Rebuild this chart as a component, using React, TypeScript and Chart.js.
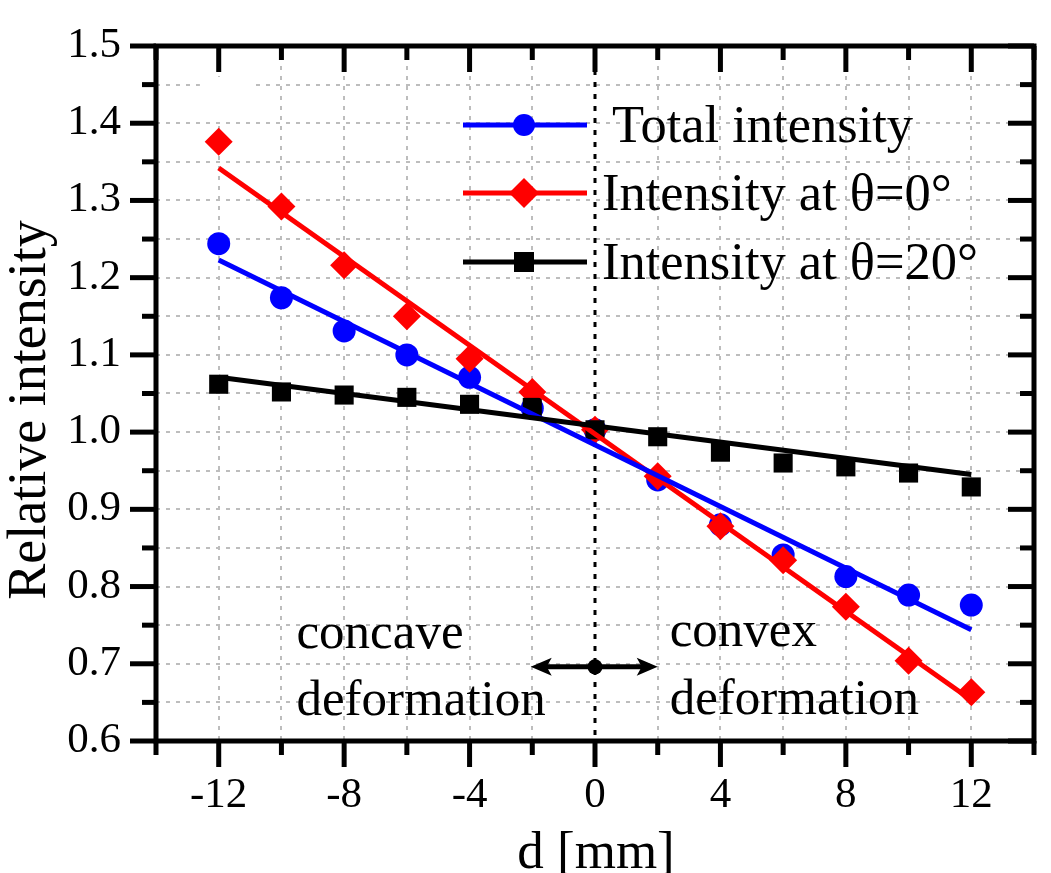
import React, { useEffect, useRef } from 'react';
import { Chart, registerables } from 'chart.js';

Chart.register(...registerables);

// ---- data ----
const D_MM = [-12, -10, -8, -6, -4, -2, 0, 2, 4, 6, 8, 10, 12];
const TOTAL = [1.244, 1.174, 1.131, 1.1, 1.071, 1.031, 1.003, 0.938, 0.88, 0.841, 0.813, 0.789, 0.776];
const THETA0 = [1.376, 1.292, 1.216, 1.15, 1.095, 1.052, 1.003, 0.943, 0.878, 0.834, 0.774, 0.704, 0.663];
const THETA20 = [1.062, 1.052, 1.048, 1.045, 1.036, 1.032, 1.003, 0.994, 0.974, 0.96, 0.955, 0.947, 0.929];

const FIT_X = [-12, 12];
const TOTAL_FIT = [1.223, 0.744];
const THETA0_FIT = [1.342, 0.653];
const THETA20_FIT = [1.071, 0.945];

const SERIES_LABELS = ['Total intensity', 'Intensity at \u03B8=0\u00B0', 'Intensity at \u03B8=20\u00B0'];
const X_TICKS = [-12, -8, -4, 0, 4, 8, 12];
const X_TICK_LABELS = ['-12', '-8', '-4', '0', '4', '8', '12'];
const X_MINOR = [-14, -10, -6, -2, 2, 6, 10, 14];
const X_GRID = [-12, -10, -8, -6, -4, -2, 2, 4, 6, 8, 10, 12];
const Y_TICKS = [0.6, 0.7, 0.8, 0.9, 1.0, 1.1, 1.2, 1.3, 1.4, 1.5];
const Y_TICK_LABELS = ['0.6', '0.7', '0.8', '0.9', '1.0', '1.1', '1.2', '1.3', '1.4', '1.5'];
const Y_MINOR = [0.65, 0.75, 0.85, 0.95, 1.05, 1.15, 1.25, 1.35, 1.45];
const Y_GRID = [0.65, 0.7, 0.75, 0.8, 0.85, 0.9, 0.95, 1.0, 1.05, 1.1, 1.15, 1.2, 1.25, 1.3, 1.35, 1.4, 1.45];
const X_TITLE = 'd [mm]';
const Y_TITLE = 'Relative intensity';
const NOTE_LEFT = ['concave', 'deformation'];
const NOTE_RIGHT = ['convex', 'deformation'];

const BLUE = '#0000ff';
const RED = '#ff0000';
const BLACK = '#000000';
const SERIF = "'Liberation Serif', 'Times New Roman', serif";

const toPts = (xs: number[], ys: number[]) => xs.map((x, i) => ({ x, y: ys[i] }));

const decor = {
  id: 'decor',
  beforeDatasetsDraw(chart: any) {
    const { ctx, chartArea: a, scales } = chart;
    const x = scales.x;
    const y = scales.y;
    ctx.save();
    // dotted gray grid
    ctx.strokeStyle = '#bdbdbd';
    ctx.lineWidth = 2;
    ctx.setLineDash([4, 6]);
    for (const v of X_GRID) {
      const px = Math.round(x.getPixelForValue(v));
      ctx.beginPath();
      ctx.moveTo(px, a.top);
      ctx.lineTo(px, a.bottom);
      ctx.stroke();
    }
    for (const v of Y_GRID) {
      const py = Math.round(y.getPixelForValue(v));
      ctx.beginPath();
      ctx.moveTo(a.left, py);
      ctx.lineTo(a.right, py);
      ctx.stroke();
    }
    ctx.setLineDash([]);
    // white patch in the upper left
    ctx.fillStyle = '#ffffff';
    const bx0 = x.getPixelForValue(-12.6);
    const bx1 = x.getPixelForValue(-10.85);
    const by0 = y.getPixelForValue(1.46);
    const by1 = y.getPixelForValue(1.402);
    ctx.fillRect(bx0, by0, bx1 - bx0, by1 - by0);
    // black dotted line at d = 0
    ctx.strokeStyle = BLACK;
    ctx.lineWidth = 3;
    ctx.setLineDash([5, 7]);
    const zx = Math.round(x.getPixelForValue(0));
    ctx.beginPath();
    ctx.moveTo(zx, a.top);
    ctx.lineTo(zx, a.bottom);
    ctx.stroke();
    ctx.restore();
  },
  afterDatasetsDraw(chart: any) {
    const { ctx, chartArea: a, scales } = chart;
    const x = scales.x;
    const y = scales.y;
    ctx.save();
    ctx.strokeStyle = BLACK;
    ctx.fillStyle = BLACK;
    ctx.setLineDash([]);
    ctx.lineCap = 'butt';

    // ticks
    ctx.lineWidth = 5;
    const seg = (x0: number, y0: number, x1: number, y1: number) => {
      ctx.beginPath();
      ctx.moveTo(x0, y0);
      ctx.lineTo(x1, y1);
      ctx.stroke();
    };
    const MAJ = 26;
    const MIN = 14;
    for (const v of X_TICKS) {
      const px = x.getPixelForValue(v);
      seg(px, a.bottom, px, a.bottom + MAJ);
      seg(px, a.top, px, a.top + MAJ);
    }
    for (const v of X_MINOR) {
      const px = x.getPixelForValue(v);
      seg(px, a.bottom, px, a.bottom + MIN);
      seg(px, a.top, px, a.top + MIN);
    }
    for (const v of Y_TICKS) {
      const py = y.getPixelForValue(v);
      seg(a.left - MAJ, py, a.left, py);
      seg(a.right - MAJ, py, a.right, py);
    }
    for (const v of Y_MINOR) {
      const py = y.getPixelForValue(v);
      seg(a.left - MIN, py, a.left, py);
      seg(a.right - MIN, py, a.right, py);
    }

    // frame
    ctx.lineWidth = 5;
    ctx.lineJoin = 'miter';
    ctx.strokeRect(a.left, a.top, a.right - a.left, a.bottom - a.top);

    // tick labels
    ctx.font = `43px ${SERIF}`;
    ctx.textBaseline = 'alphabetic';
    ctx.textAlign = 'center';
    X_TICKS.forEach((v, i) => {
      ctx.fillText(X_TICK_LABELS[i], x.getPixelForValue(v), a.bottom + 66);
    });
    ctx.textAlign = 'right';
    Y_TICKS.forEach((v, i) => {
      ctx.fillText(Y_TICK_LABELS[i], a.left - 35, y.getPixelForValue(v) + 11);
    });

    // axis titles
    ctx.font = `53px ${SERIF}`;
    ctx.textAlign = 'center';
    ctx.fillText(X_TITLE, (a.left + a.right) / 2 + 1, a.bottom + 127);
    ctx.save();
    ctx.font = `54px ${SERIF}`;
    ctx.translate(45, 410);
    ctx.rotate(-Math.PI / 2);
    ctx.fillText(Y_TITLE, 0, 0);
    ctx.restore();

    // notes
    ctx.font = `51px ${SERIF}`;
    ctx.textAlign = 'left';
    const lx = x.getPixelForValue(-9.52);
    const rx = x.getPixelForValue(2.38);
    ctx.fillText(NOTE_LEFT[0], lx, 648);
    ctx.fillText(NOTE_LEFT[1], lx, 715);
    ctx.fillText(NOTE_RIGHT[0], rx, 646);
    ctx.fillText(NOTE_RIGHT[1], rx, 714);

    // double arrow with centre dot
    const ay = y.getPixelForValue(0.696);
    const ax0 = x.getPixelForValue(-2.05);
    const ax1 = x.getPixelForValue(2.0);
    const ax = x.getPixelForValue(0);
    ctx.lineWidth = 5;
    seg(ax0 + 12, ay, ax1 - 12, ay);
    ctx.beginPath();
    ctx.moveTo(ax0, ay);
    ctx.lineTo(ax0 + 21, ay - 9);
    ctx.lineTo(ax0 + 16, ay);
    ctx.lineTo(ax0 + 21, ay + 9);
    ctx.closePath();
    ctx.fill();
    ctx.beginPath();
    ctx.moveTo(ax1, ay);
    ctx.lineTo(ax1 - 21, ay - 9);
    ctx.lineTo(ax1 - 16, ay);
    ctx.lineTo(ax1 - 21, ay + 9);
    ctx.closePath();
    ctx.fill();
    ctx.beginPath();
    ctx.arc(ax, ay, 7.5, 0, Math.PI * 2);
    ctx.fill();

    // legend
    const rows = [125, 193, 262];
    const colors = [BLUE, RED, BLACK];
    const l0 = 463;
    const l1 = 587;
    const mx = 524;
    rows.forEach((ry, i) => {
      ctx.strokeStyle = colors[i];
      ctx.fillStyle = colors[i];
      ctx.lineWidth = 5;
      seg(l0, ry, l1, ry);
      ctx.beginPath();
      if (i === 0) {
        ctx.arc(mx, ry, 11, 0, Math.PI * 2);
      } else if (i === 1) {
        ctx.moveTo(mx - 15, ry);
        ctx.lineTo(mx, ry - 15);
        ctx.lineTo(mx + 15, ry);
        ctx.lineTo(mx, ry + 15);
        ctx.closePath();
      } else {
        ctx.rect(mx - 10, ry - 10, 20, 20);
      }
      ctx.fill();
    });
    ctx.fillStyle = BLACK;
    ctx.font = `52.5px ${SERIF}`;
    ctx.textAlign = 'left';
    ctx.fillText(SERIES_LABELS[0], 612, rows[0] + 17);
    ctx.fillText(SERIES_LABELS[1], 602, rows[1] + 17);
    ctx.fillText(SERIES_LABELS[2], 602, rows[2] + 17);

    ctx.restore();
  },
};

export default function App() {
  const ref = useRef<HTMLCanvasElement | null>(null);

  useEffect(() => {
    document.body.style.margin = '0';
    const canvas = ref.current;
    if (!canvas) return;
    const marker = (data: number[], color: string, style: string, r: number, order: number) => ({
      type: 'scatter' as const,
      data: toPts(D_MM, data),
      showLine: false,
      pointStyle: style,
      pointRadius: r,
      pointBackgroundColor: color,
      pointBorderColor: color,
      pointBorderWidth: 0,
      order,
    });
    const fit = (data: number[], color: string, order: number) => ({
      type: 'line' as const,
      data: toPts(FIT_X, data),
      showLine: true,
      borderColor: color,
      borderWidth: 5,
      pointRadius: 0,
      fill: false,
      order,
    });
    const chart = new Chart(canvas, {
      type: 'scatter',
      data: {
        datasets: [
          marker(TOTAL, BLUE, 'circle', 11.5, 7),
          marker(THETA0, RED, 'rectRot', 14, 6),
          marker(THETA20, BLACK, 'rect', 13.5, 5),
          fit(THETA0_FIT, RED, 4),
          fit(TOTAL_FIT, BLUE, 3),
          fit(THETA20_FIT, BLACK, 2),
        ] as any,
      },
      options: {
        responsive: false,
        animation: false,
        events: [],
        layout: { padding: { top: 46, right: 17, left: 0, bottom: 0 } },
        plugins: {
          legend: { display: false },
          tooltip: { enabled: false },
        },
        scales: {
          x: {
            type: 'linear',
            min: -14,
            max: 14,
            grid: { display: false },
            border: { display: false },
            ticks: { display: false },
            afterFit: (s: any) => {
              s.height = 132;
            },
          },
          y: {
            type: 'linear',
            min: 0.6,
            max: 1.5,
            grid: { display: false },
            border: { display: false },
            ticks: { display: false },
            afterFit: (s: any) => {
              s.width = 156;
            },
          },
        },
      },
      plugins: [decor],
    });
    return () => chart.destroy();
  }, []);

  return (
    <div style={{ width: 1051, height: 873, background: '#fff' }}>
      <canvas ref={ref} width={1051} height={873} style={{ display: 'block' }} />
    </div>
  );
}
